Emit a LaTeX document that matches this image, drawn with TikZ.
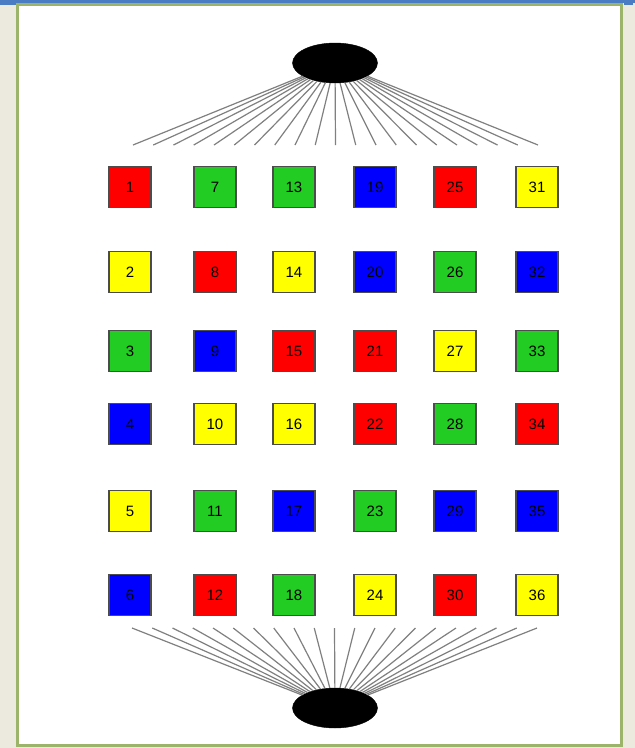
\documentclass[tikz,border=0pt]{standalone}
\usepackage{fontspec}
\setmainfont{Liberation Sans}
\usetikzlibrary{shapes.geometric}
\definecolor{pagebg}{HTML}{ECEADF}
\definecolor{framegreen}{HTML}{9BB46A}
\definecolor{winblue}{HTML}{4A7CC4}
\definecolor{cred}{HTML}{FF0000}
\definecolor{cgreen}{HTML}{22CC22}
\definecolor{cblue}{HTML}{0000FF}
\definecolor{cyellow}{HTML}{FFFF00}
\tikzset{
  cell/.style={draw=black!70, line width=1.8pt, minimum width=42pt, minimum height=41pt,
    inner sep=0pt, font=\fontsize{15}{15}\selectfont, text=black},
  hub/.style={ellipse, fill=black, draw=black, minimum width=85pt, minimum height=40pt, inner sep=0pt},
  ray/.style={draw=black!50, line width=1.2pt},
}
\begin{document}
\begin{tikzpicture}[x=1pt,y=-1pt]
\useasboundingbox (0,0) rectangle (635,748);
\fill[pagebg] (0,0) rectangle (635,748);
\fill[winblue] (0,0) rectangle (635,2.5);
\fill[winblue] (0,0) rectangle (18,5);
\fill[winblue] (624,0) rectangle (633,5);
\fill[white] (17,4) rectangle (621,745);
\draw[framegreen, line width=3pt] (17,4) rectangle (621,745);
% hubs
\node[hub] (top) at (335,63) {};
\node[hub] (bot) at (335,708) {};
% grid
\foreach \n/\c/\x/\y in {
 1/cred/130/187, 2/cyellow/130/272, 3/cgreen/130/351, 4/cblue/130/424, 5/cyellow/130/511, 6/cblue/130/595,
 7/cgreen/215/187, 8/cred/215/272, 9/cblue/215/351, 10/cyellow/215/424, 11/cgreen/215/511, 12/cred/215/595,
 13/cgreen/294/187, 14/cyellow/294/272, 15/cred/294/351, 16/cyellow/294/424, 17/cblue/294/511, 18/cgreen/294/595,
 19/cblue/375/187, 20/cblue/375/272, 21/cred/375/351, 22/cred/375/424, 23/cgreen/375/511, 24/cyellow/375/595,
 25/cred/455/187, 26/cgreen/455/272, 27/cyellow/455/351, 28/cgreen/455/424, 29/cblue/455/511, 30/cred/455/595,
 31/cyellow/537/187, 32/cblue/537/272, 33/cgreen/537/351, 34/cred/537/424, 35/cblue/537/511, 36/cyellow/537/595}
 { \node[cell, fill=\c] (b\n) at (\x,\y) {\n}; }
% rays
\foreach \i in {0,...,20} {
  \coordinate (te\i) at ({133+\i*20.25},145);
  \coordinate (be\i) at ({132+\i*20.25},628);
  \draw[ray] (top) -- (te\i);
  \draw[ray] (bot) -- (be\i);
}
\end{tikzpicture}
\end{document}
